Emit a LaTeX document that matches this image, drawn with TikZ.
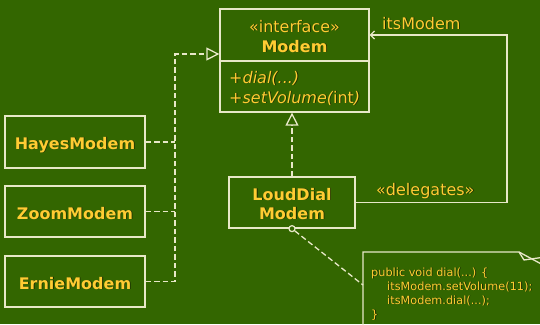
\documentclass[tikz,border=0pt]{standalone}
\usepackage{fontspec}
\setmainfont{DejaVu Sans}
\usetikzlibrary{arrows.meta}
\definecolor{bg}{RGB}{51,102,0}
\definecolor{ink}{RGB}{255,204,51}
\definecolor{edge}{RGB}{232,232,200}
\definecolor{shade}{RGB}{26,45,0}
\newcommand\shtext[1]{\leavevmode\rlap{\hspace{0.8pt}\raisebox{-0.8pt}{\textcolor{shade}{#1}}}#1}
\begin{document}
\begin{tikzpicture}[x=1pt,y=-1pt,
 box/.style={draw=edge, line width=1.3pt, inner sep=0pt},
 lbl/.style={text=ink, font=\fontsize{16}{19}\selectfont, inner sep=0pt},
 bold/.style={text=ink, font=\fontsize{16}{19}\selectfont\bfseries, inner sep=0pt},
 code/.style={text=ink, font=\fontsize{11.3}{13.9}\selectfont, inner sep=0pt},
 conn/.style={draw=edge, line width=1.3pt},
 dashconn/.style={conn, dash pattern=on 5.5pt off 3pt},
 realize/.style={-{Triangle[open, length=13pt, width=13pt, fill=bg]}}
]
\fill[bg] (0,0) rectangle (540,324);
\useasboundingbox (0,0) rectangle (540,324);

% Modem interface
\node[box, minimum width=149pt, minimum height=52pt] (modemtop) at (294.5,35) {};
\node[box, minimum width=149pt, minimum height=51pt] (modemops) at (294.5,86.5) {};
\node[lbl, anchor=base] (stereo) at (294.5,32) {\shtext{«interface»}};
\node[bold, anchor=base] (modemname) at (294.5,52) {\shtext{Modem}};
\node[lbl, anchor=base west] (op1) at (229,83) {\shtext{\itshape +dial(...)}};
\node[lbl, anchor=base west] (op2) at (229,103) {\shtext{\itshape +setVolume(\upshape int\itshape )}};

% implementations
\node[box, minimum width=140pt, minimum height=52pt] (hayes) at (75,142) {};
\node[box, minimum width=140pt, minimum height=51pt] (zoom) at (75,211.5) {};
\node[box, minimum width=140pt, minimum height=51pt] (ernie) at (75,281.5) {};
\node[bold, anchor=base] (hayest) at (75,149) {\shtext{HayesModem}};
\node[bold, anchor=base] (zoomt) at (75,219) {\shtext{ZoomModem}};
\node[bold, anchor=base] (erniet) at (75,289) {\shtext{ErnieModem}};

% LoudDial
\node[box, minimum width=126pt, minimum height=51pt] (loud) at (292,202.5) {};
\node[bold, anchor=base] (loudt1) at (292,200) {\shtext{LoudDial}};
\node[bold, anchor=base] (loudt2) at (292,219) {\shtext{Modem}};

% realization connectors
\coordinate (bus) at (175,54);
\draw[dashconn] (hayes.east) -- (hayes.east -| bus);
\draw[dashconn] (zoom.east) -- (zoom.east -| bus);
\draw[dashconn, realize] (ernie.east) -| (bus) -- (bus -| modemtop.west);
\draw[dashconn, realize] (loud.north) -- (loud.north |- modemops.south);

% delegation
\coordinate (corner) at (507,100);
\draw[conn, -{Straight Barb[length=4pt, width=8pt]}] (loud.east) -| (corner) |- (modemtop.east);
\node[lbl, anchor=base west] (itsm) at (382,29) {\shtext{itsModem}};
\node[lbl, anchor=base west] (deleg) at (376,195) {\shtext{«delegates»}};

% note
\draw[conn] (363,330) -- (363,252) -- (519,252) -- (545,266);
\draw[conn, line join=round] (519,252) -- (524,260) -- (545,257);
\coordinate (noteleft) at (363,285);
\node[draw=edge, line width=1.2pt, circle, inner sep=0pt, minimum size=6pt, fill=bg] (knob) at (loud.south) {};
\draw[dashconn] (knob) -- (noteleft);
\node[code, anchor=base west] (c1) at (371,276) {\shtext{public void dial(...) \{}};
\node[code, anchor=base west] (c2) at (387,290) {\shtext{itsModem.setVolume(11);}};
\node[code, anchor=base west] (c3) at (387,304) {\shtext{itsModem.dial(...);}};
\node[code, anchor=base west] (c4) at (371,318) {\shtext{\}}};
\end{tikzpicture}
\end{document}
